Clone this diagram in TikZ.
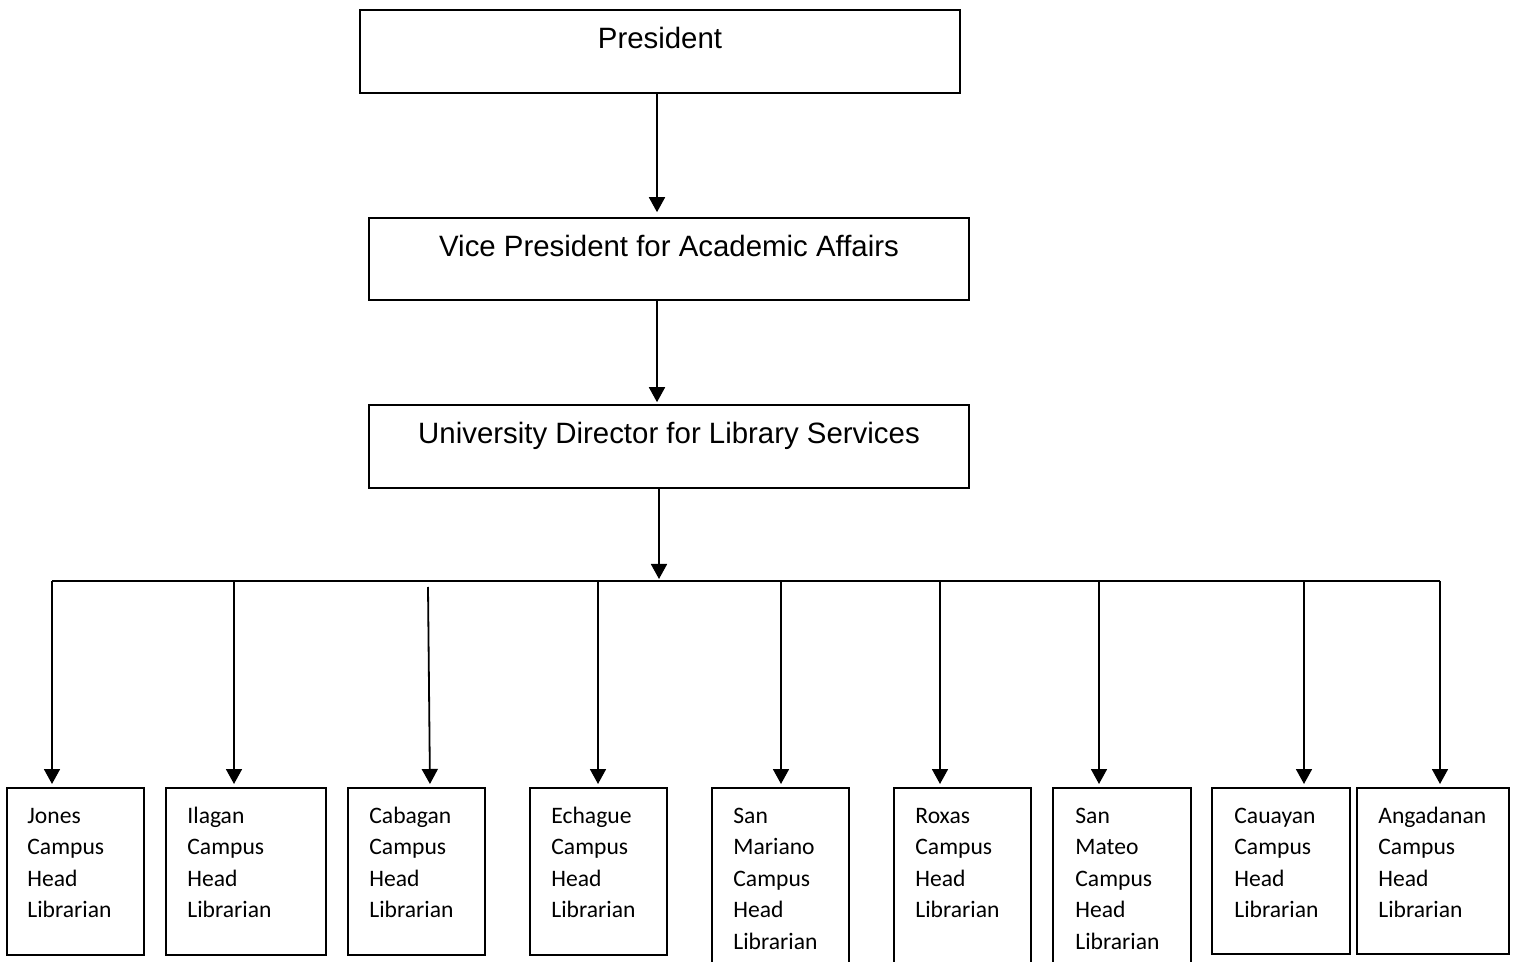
\documentclass[tikz,border=0pt]{standalone}
\usepackage{fontspec}
\setmainfont{Liberation Sans}
\newfontfamily\calibri{Carlito}
\usetikzlibrary{fit,arrows.meta}
\begin{document}
\begin{tikzpicture}[x=0.5pt,y=-0.5pt,
  topbox/.style={draw,line width=0.8pt,inner sep=0pt},
  campbox/.style={draw,line width=1pt,inner sep=0pt},
  toptext/.style={font=\fontsize{14.7}{17}\selectfont,inner sep=0pt,anchor=base},
  camptext/.style={font=\calibri\fontsize{11.8}{15.75}\selectfont,align=left,inner sep=0pt,anchor=north west},
  arr/.style={line width=0.9pt,-{Triangle[width=8pt,length=7.5pt]}},
  conn/.style={line width=0.9pt}]
\useasboundingbox (0,0) rectangle (1517,962);
\clip (0,0) rectangle (1517,962);
% top boxes
\node[topbox,fit={(360,10) (960,93)}] (pres) {};
\node[topbox,fit={(369,218) (969,300)}] (vp) {};
\node[topbox,fit={(369,405) (969,488)}] (dir) {};
\node[toptext] (prest) at (660,49) {President};
\node[toptext] (vpt) at (669,257) {Vice President for Academic Affairs};
\node[toptext] (dirt) at (669,444) {University Director for Library Services};
% campus boxes
\node[campbox,fit={(7,788) (144,955)}] (b1) {};
\node[campbox,fit={(166,788) (326,955)}] (b2) {};
\node[campbox,fit={(348,788) (485,955)}] (b3) {};
\node[campbox,fit={(530,788) (667,955)}] (b4) {};
\node[campbox,fit={(712,788) (849,980)}] (b5) {};
\node[campbox,fit={(894,788) (1031,980)}] (b6) {};
\node[campbox,fit={(1053,788) (1191,980)}] (b7) {};
\node[campbox,fit={(1212,788) (1350,954)}] (b8) {};
\node[campbox,fit={(1357,788) (1509,954)}] (b9) {};
\node[camptext] (t1) at (27,801) {\strut Jones\\Campus\\Head\\Librarian};
\node[camptext] (t2) at (187,801) {\strut Ilagan\\Campus\\Head\\Librarian};
\node[camptext] (t3) at (369,801) {\strut Cabagan\\Campus\\Head\\Librarian};
\node[camptext] (t4) at (551,801) {\strut Echague\\Campus\\Head\\Librarian};
\node[camptext] (t5) at (733,801) {\strut San\\Mariano\\Campus\\Head\\Librarian};
\node[camptext] (t6) at (915,801) {\strut Roxas\\Campus\\Head\\Librarian};
\node[camptext] (t7) at (1075,801) {\strut San\\Mateo\\Campus\\Head\\Librarian};
\node[camptext] (t8) at (1234,801) {\strut Cauayan\\Campus\\Head\\Librarian};
\node[camptext] (t9) at (1378,801) {\strut Angadanan\\Campus\\Head\\Librarian};
% connector coordinates
\coordinate (c0) at (657,0);
\coordinate (c00) at (659,0);
\coordinate (busL) at (52,581);
\coordinate (busR) at (1440,581);
\coordinate (d1) at (52,581);
\coordinate (d2) at (234,581);
\coordinate (d3a) at (428,587);
\coordinate (d3) at (430,581);
\coordinate (d4) at (598,581);
\coordinate (d5) at (781,581);
\coordinate (d6) at (940,581);
\coordinate (d7) at (1099,581);
\coordinate (d8) at (1304,581);
\coordinate (d9) at (1440,581);
% connectors
\draw[arr,shorten >=2.5pt] (pres.south -| c0) -- (vp.north -| c0);
\draw[arr,shorten >=1pt] (vp.south -| c0) -- (dir.north -| c0);
\draw[arr,shorten >=1pt] (dir.south -| c00) -- (busL -| c00);
\draw[conn] (busL) -- (busR);
\draw[arr,shorten >=1.5pt] (d1) -- (b1.north -| d1);
\draw[arr,shorten >=1.5pt] (d2) -- (b2.north -| d2);
\draw[arr,shorten >=1.5pt] (d3a) -- (b3.north -| d3);
\draw[arr,shorten >=1.5pt] (d4) -- (b4.north -| d4);
\draw[arr,shorten >=1.5pt] (d5) -- (b5.north -| d5);
\draw[arr,shorten >=1.5pt] (d6) -- (b6.north -| d6);
\draw[arr,shorten >=1.5pt] (d7) -- (b7.north -| d7);
\draw[arr,shorten >=1.5pt] (d8) -- (b8.north -| d8);
\draw[arr,shorten >=1.5pt] (d9) -- (b9.north -| d9);
\end{tikzpicture}
\end{document}
